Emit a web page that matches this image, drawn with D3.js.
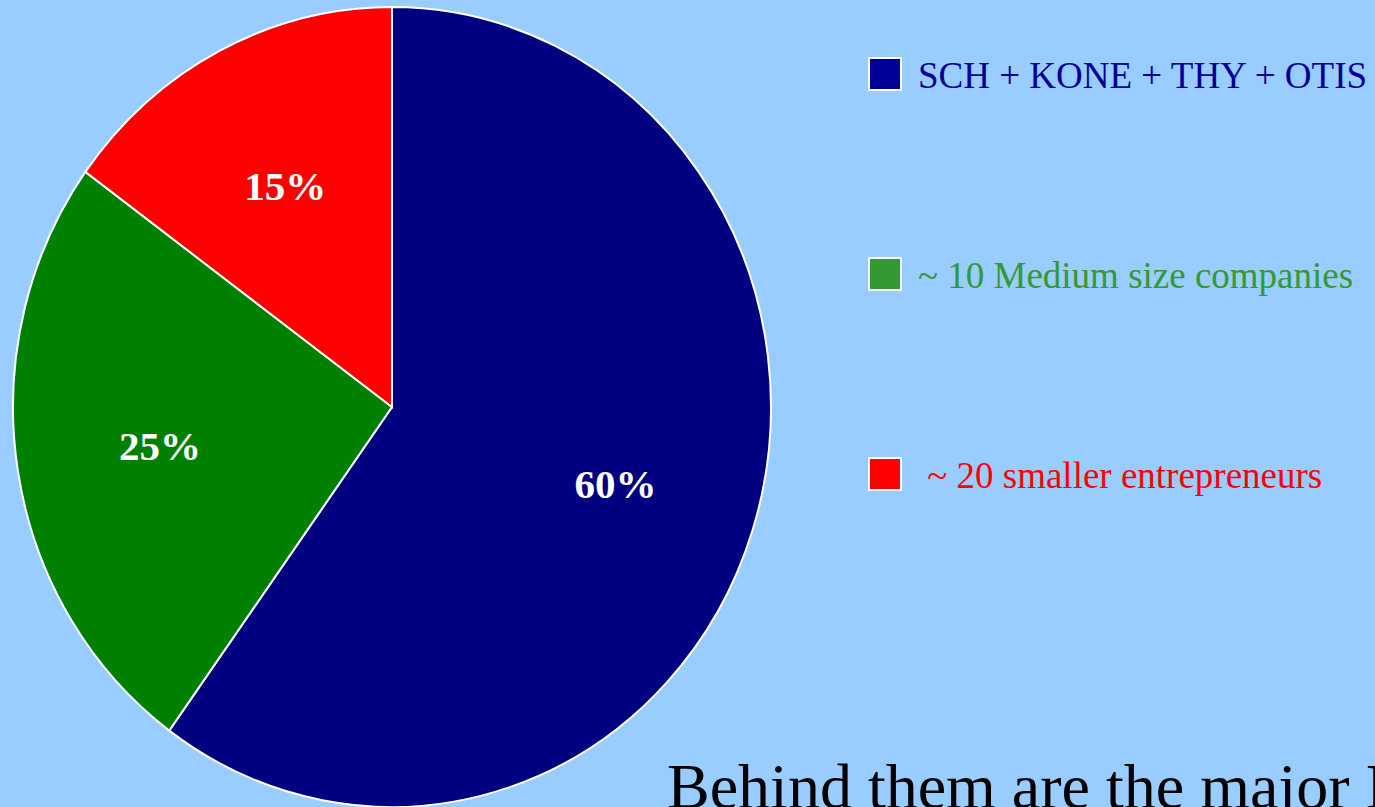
<!DOCTYPE html>
<html>
<head>
<meta charset="utf-8">
<script src="https://cdn.jsdelivr.net/npm/d3@7"></script>
<style>
  html, body { margin: 0; padding: 0; background: #99ccff; overflow: hidden; }
  text { font-family: "Liberation Serif", "Times New Roman", serif; }
</style>
</head>
<body>
<div id="chart"></div>
<script>
// data
const categories = ['SCH + KONE + THY + OTIS', '~ 10 Medium size companies', ' ~ 20 smaller entrepreneurs']
const shares = [60, 25, 15]
const sliceColors = ['#000080', '#008000', '#ff0000']
const legendColors = ['#000099', '#339933', '#ff0000']
const footnote = 'Behind them are the major I'

const width = 1375
const height = 807

const svg = d3.select('#chart').append('svg')
  .attr('width', width)
  .attr('height', height)
  .style('display', 'block')

svg.append('rect').attr('width', width).attr('height', height).attr('fill', '#99ccff')

const data = categories.map((c, i) => ({ name: c, value: shares[i], color: sliceColors[i], legend: legendColors[i] }))

// pie is a little squashed horizontally, so draw a circle and scale x
const cx = 392, cy = 407, r = 400, rx = 379
const pie = d3.pie().sort(null).value(d => d.value)
const arcs = pie(data)
const arc = d3.arc().innerRadius(0).outerRadius(r)
const labelArc = d3.arc().innerRadius(r * 0.62).outerRadius(r * 0.62)

const pieG = svg.append('g')
  .attr('transform', `translate(${cx},${cy}) scale(${rx / r},1)`)

pieG.selectAll('path')
  .data(arcs)
  .enter()
  .append('path')
  .attr('d', arc)
  .attr('fill', d => d.data.color)
  .attr('stroke', '#fff')
  .attr('stroke-width', 2)
  .attr('vector-effect', 'non-scaling-stroke')

// percentage labels (placed in unscaled coords so text isn't squashed)
svg.append('g')
  .selectAll('text')
  .data(arcs)
  .enter()
  .append('text')
  .attr('x', d => cx + labelArc.centroid(d)[0] * rx / r)
  .attr('y', d => cy + labelArc.centroid(d)[1])
  .attr('dy', '0.35em')
  .attr('text-anchor', 'middle')
  .attr('fill', '#fff')
  .attr('font-weight', 'bold')
  .attr('font-size', 41)
  .text(d => d.data.value + '%')

// legend
const legendY = d3.scalePoint().domain(categories).range([74, 474])
const legend = svg.append('g')
  .selectAll('g')
  .data(data)
  .enter()
  .append('g')
  .attr('transform', d => `translate(868,${legendY(d.name)})`)

legend.append('rect')
  .attr('x', 1)
  .attr('y', -16)
  .attr('width', 32)
  .attr('height', 32)
  .attr('fill', d => d.legend)
  .attr('stroke', '#fff')
  .attr('stroke-width', 2)

legend.append('text')
  .attr('x', 50)
  .attr('y', 14)
  .attr('font-size', 37)
  .attr('fill', d => d.legend)
  .style('white-space', 'pre')
  .text(d => d.name)

// footnote running off the bottom right
svg.append('text')
  .attr('x', 667)
  .attr('y', 808)
  .attr('font-size', 64)
  .attr('fill', '#000')
  .text(footnote)
</script>
</body>
</html>
